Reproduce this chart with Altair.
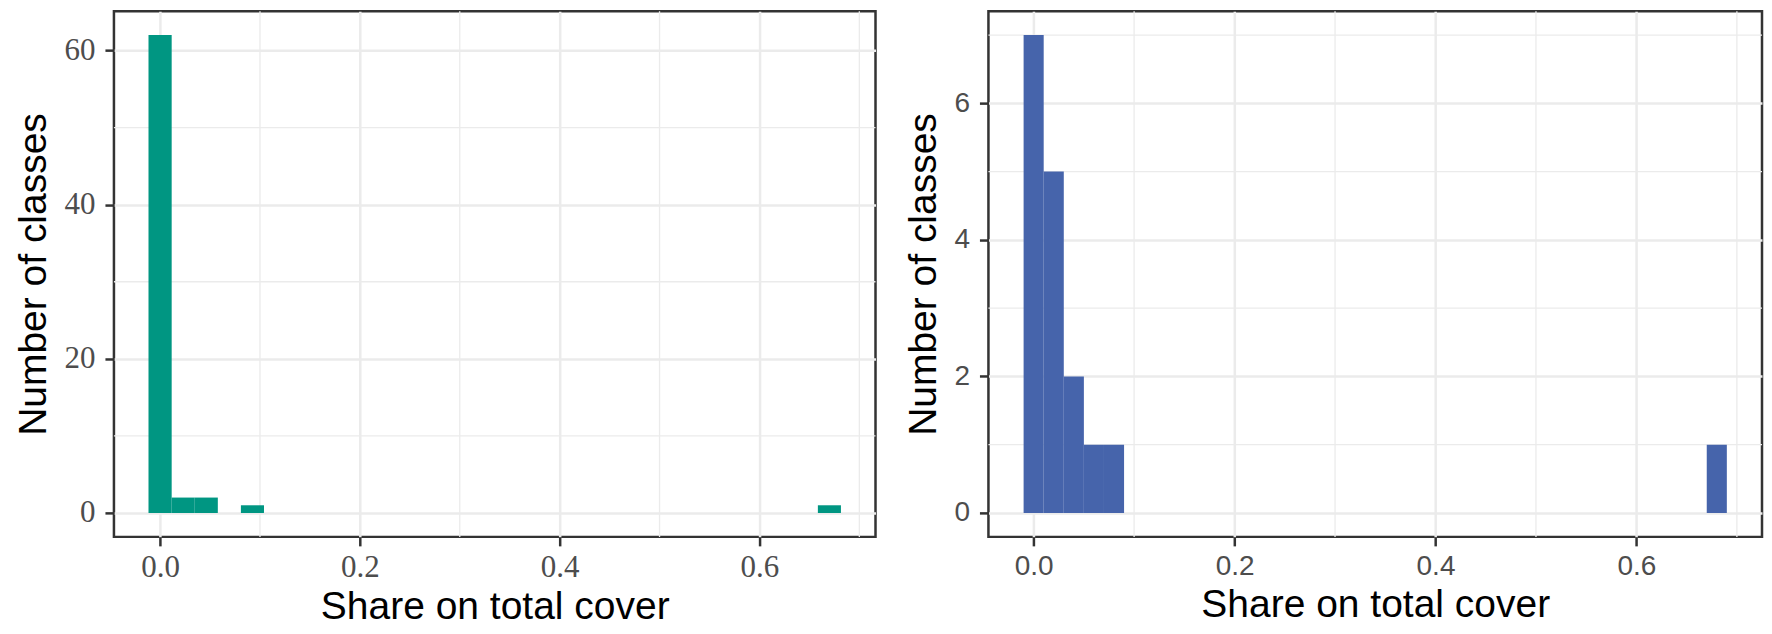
import altair as alt
import pandas as pd

# ---- data ----
# left histogram: bin edges and counts
left_bin_lo = [-0.0116, 0.0116, 0.0347, 0.0809, 0.6585]
left_bin_hi = [0.0116, 0.0347, 0.0578, 0.1040, 0.6816]
left_counts = [62, 2, 2, 1, 1]

# right histogram: bin edges and counts
right_bin_lo = [-0.01, 0.01, 0.03, 0.05, 0.07, 0.67]
right_bin_hi = [0.01, 0.03, 0.05, 0.07, 0.09, 0.69]
right_counts = [7, 5, 2, 1, 1, 1]

x_ticks = [0.0, 0.2, 0.4, 0.6]
x_minor = [0.1, 0.3, 0.5, 0.7]
left_y_ticks = [0, 20, 40, 60]
left_y_minor = [10, 30, 50]
right_y_ticks = [0, 2, 4, 6]
right_y_minor = [1, 3, 5, 7]

x_title = "Share on total cover"
y_title = "Number of classes"

GRID = "#EBEBEB"
DARK = "#333333"


def panel(lo, hi, counts, color, xdom, ydom, yticks, yminor, label_font, label_size, width, height):
    df = pd.DataFrame({"lo": lo, "hi": hi, "count": counts})
    xs = alt.Scale(domain=xdom, nice=False, zero=False)
    ys = alt.Scale(domain=ydom, nice=False, zero=False)
    xaxis = alt.Axis(
        values=x_ticks,
        format=".1f",
        labelFont=label_font,
        labelFontSize=label_size,
        labelPadding=7,
        titlePadding=5,
    )
    yaxis = alt.Axis(
        values=yticks,
        format="d",
        labelFont=label_font,
        labelFontSize=label_size,
        labelPadding=10,
        titlePadding=10,
    )

    minor_x = alt.Chart(pd.DataFrame({"v": x_minor})).mark_rule(
        color=GRID, strokeWidth=1.3
    ).encode(x=alt.X("v:Q", scale=xs, title=x_title, axis=xaxis))
    minor_y = alt.Chart(pd.DataFrame({"v": yminor})).mark_rule(
        color=GRID, strokeWidth=1.3
    ).encode(y=alt.Y("v:Q", scale=ys, title=y_title, axis=yaxis))

    bars = alt.Chart(df).transform_calculate(base="0").mark_rect(
        color=color
    ).encode(
        x=alt.X("lo:Q", scale=xs, title=x_title, axis=xaxis),
        x2="hi:Q",
        y=alt.Y("count:Q", scale=ys, title=y_title, axis=yaxis),
        y2="base:Q",
    )
    return alt.layer(minor_x, minor_y, bars).properties(width=width, height=height)


left = panel(left_bin_lo, left_bin_hi, left_counts, "#009682",
             [-0.0462, 0.7162], [-3.1, 65.1], left_y_ticks, left_y_minor,
             "Liberation Serif", 31, 762, 526)
right = panel(right_bin_lo, right_bin_hi, right_counts, "#4664AB",
              [-0.045, 0.725], [-0.35, 7.35], right_y_ticks, right_y_minor,
              "Liberation Sans", 28, 774, 526)

chart = alt.hconcat(left, right, spacing=26).configure_view(
    stroke=DARK, strokeWidth=2.5
).configure_axis(
    domain=False,
    grid=True,
    gridColor=GRID,
    gridWidth=2.5,
    tickColor=DARK,
    tickWidth=2.5,
    tickSize=9,
    labelColor="#4D4D4D",
    titleColor="black",
    titleFont="Liberation Sans",
    titleFontSize=39,
    titleFontWeight="normal",
).properties(
    padding={"left": 5, "top": 1, "right": 0, "bottom": 0},
    background="white",
)

chart.save("out.html", embed_options={"renderer": "svg", "actions": False})
